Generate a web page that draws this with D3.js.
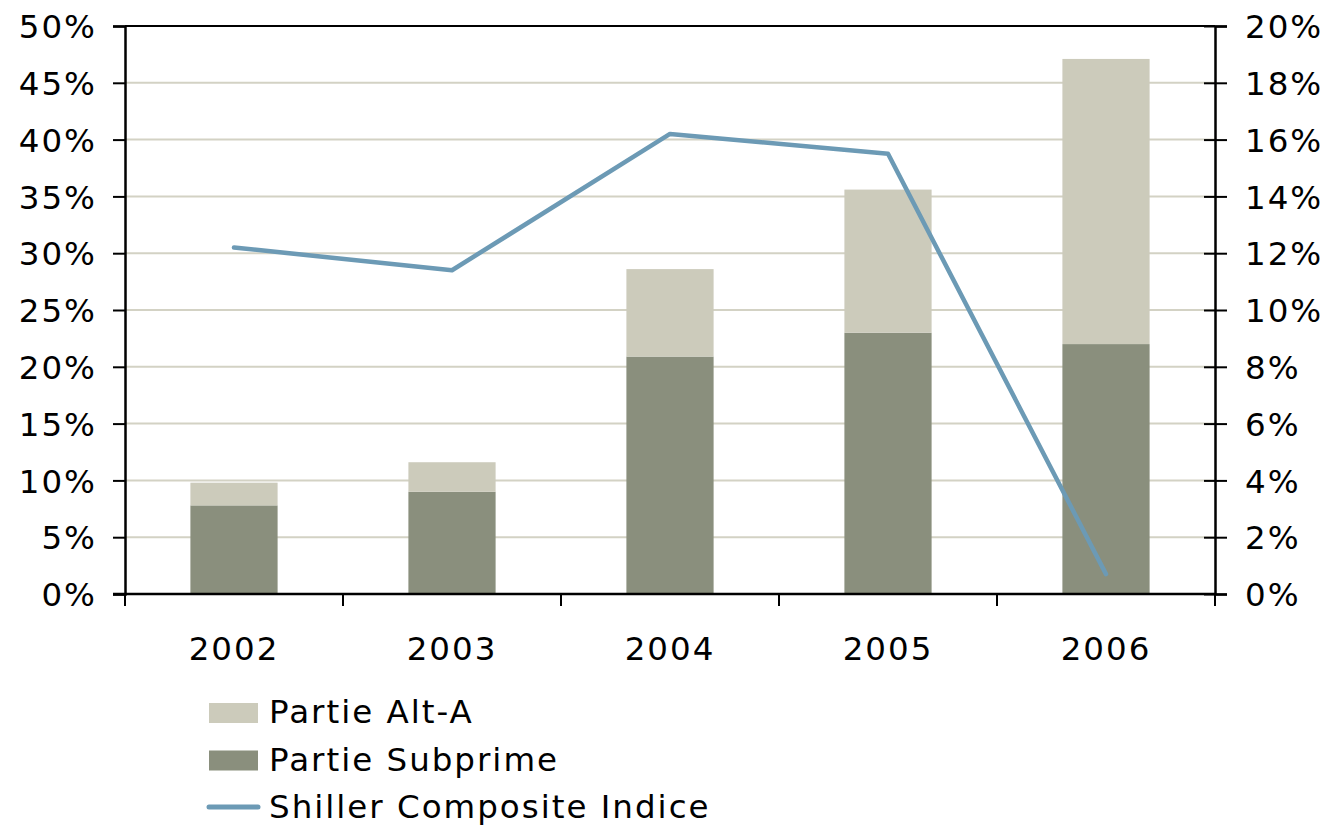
<!DOCTYPE html>
<html>
<head>
<meta charset="utf-8">
<script src="https://cdn.jsdelivr.net/npm/d3@7"></script>
<style>
  body { margin: 0; background: #fff; }
  text { font-family: "DejaVu Sans", Verdana, sans-serif; fill: #000; letter-spacing: 2px; }
</style>
</head>
<body>
<script>
var years = ["2002", "2003", "2004", "2005", "2006"];
var subprime = [7.8, 9.0, 20.9, 23.0, 22.0];
var altA = [2.0, 2.6, 7.7, 12.6, 25.1];
var shiller = [12.2, 11.4, 16.2, 15.5, 0.7];
var leftTicks = [0, 5, 10, 15, 20, 25, 30, 35, 40, 45, 50];
var rightTicks = [0, 2, 4, 6, 8, 10, 12, 14, 16, 18, 20];

var width = 1333, height = 826;
var mLeft = 125, mRight = 1215, mTop = 26, mBottom = 594;
var fs = "32.5px";

var svg = d3.select("body").append("svg")
  .attr("width", width)
  .attr("height", height);

var x = d3.scaleBand().domain(years).range([mLeft, mRight]).paddingInner(0.6).paddingOuter(0.3);
var yL = d3.scaleLinear().domain([0, 50]).range([mBottom, mTop]);
var yR = d3.scaleLinear().domain([0, 20]).range([mBottom, mTop]);

// gridlines
svg.append("g").selectAll("line")
  .data(leftTicks.slice(1, -1))
  .enter().append("line")
    .attr("x1", mLeft).attr("x2", mRight)
    .attr("y1", function(d) { return yL(d); })
    .attr("y2", function(d) { return yL(d); })
    .attr("stroke", "#d3d2c4")
    .attr("stroke-width", 2);

// stacked bars
var stack = years.map(function(y, i) { return { year: y, sub: subprime[i], alt: altA[i] }; });

svg.append("g").selectAll("rect")
  .data(stack)
  .enter().append("rect")
    .attr("x", function(d) { return x(d.year); })
    .attr("width", x.bandwidth())
    .attr("y", function(d) { return yL(d.sub); })
    .attr("height", function(d) { return yL(0) - yL(d.sub); })
    .attr("fill", "#8a8f7d");

svg.append("g").selectAll("rect")
  .data(stack)
  .enter().append("rect")
    .attr("x", function(d) { return x(d.year); })
    .attr("width", x.bandwidth())
    .attr("y", function(d) { return yL(d.sub + d.alt); })
    .attr("height", function(d) { return yL(d.sub) - yL(d.sub + d.alt); })
    .attr("fill", "#cccbbb");

// top border
svg.append("line")
  .attr("x1", mLeft).attr("x2", mRight)
  .attr("y1", mTop).attr("y2", mTop)
  .attr("stroke", "#000").attr("stroke-width", 2);

// left axis
var gl = svg.append("g").attr("transform", "translate(" + mLeft + ",0)")
  .call(d3.axisLeft(yL).tickValues(leftTicks).tickSize(12).tickPadding(16)
    .tickFormat(function(d) { return d + "%"; }));
gl.select(".domain").attr("stroke-width", 2.5);
gl.selectAll(".tick line").attr("stroke-width", 2);
gl.selectAll("text").style("font-size", fs).attr("font-family", null).attr("dy", "0.36em");

// right axis
var gr = svg.append("g").attr("transform", "translate(" + mRight + ",0)")
  .call(d3.axisRight(yR).tickValues(rightTicks).tickSize(12).tickPadding(18)
    .tickFormat(function(d) { return d + "%"; }));
gr.select(".domain").attr("stroke-width", 2.5);
gr.selectAll(".tick line").attr("x1", -11).attr("stroke-width", 2);
gr.selectAll("text").style("font-size", fs).attr("font-family", null).attr("dy", "0.36em");

// bottom axis
var boundaries = d3.range(years.length + 1).map(function(i) { return mLeft + i * x.step(); });
svg.append("line")
  .attr("x1", mLeft - 12).attr("x2", mRight)
  .attr("y1", mBottom).attr("y2", mBottom)
  .attr("stroke", "#000").attr("stroke-width", 2.5);
svg.append("g").selectAll("line")
  .data(boundaries)
  .enter().append("line")
    .attr("x1", function(d) { return d; }).attr("x2", function(d) { return d; })
    .attr("y1", mBottom).attr("y2", mBottom + 12)
    .attr("stroke", "#000").attr("stroke-width", 2);
svg.append("g").selectAll("text")
  .data(years)
  .enter().append("text")
    .attr("x", function(d) { return x(d) + x.bandwidth() / 2; })
    .attr("y", 660)
    .attr("text-anchor", "middle")
    .style("font-size", fs)
    .text(function(d) { return d; });

// line
var line = d3.line()
  .x(function(d, i) { return x(years[i]) + x.bandwidth() / 2; })
  .y(function(d) { return yR(d); });
svg.append("path")
  .datum(shiller)
  .attr("d", line)
  .attr("fill", "none")
  .attr("stroke", "#6c9ab5")
  .attr("stroke-width", 4.5)
  .attr("stroke-linecap", "round")
  .attr("stroke-linejoin", "round");

// legend
var legend = [
  { label: "Partie Alt-A", type: "rect", color: "#cccbbb" },
  { label: "Partie Subprime", type: "rect", color: "#8a8f7d" },
  { label: "Shiller Composite Indice", type: "line", color: "#6c9ab5" }
];
var lg = svg.append("g").selectAll("g")
  .data(legend)
  .enter().append("g")
    .attr("transform", function(d, i) { return "translate(209," + (713 + i * 47.5) + ")"; });
lg.filter(function(d) { return d.type == "rect"; }).append("rect")
  .attr("x", 0).attr("y", -10).attr("width", 49).attr("height", 20)
  .attr("fill", function(d) { return d.color; });
lg.filter(function(d) { return d.type == "line"; }).append("line")
  .attr("x1", 0).attr("x2", 49).attr("y1", -1).attr("y2", -1)
  .attr("stroke", function(d) { return d.color; })
  .attr("stroke-width", 5).attr("stroke-linecap", "round");
lg.append("text")
  .attr("x", 60).attr("y", 10)
  .style("font-size", fs)
  .text(function(d) { return d.label; });
</script>
</body>
</html>
